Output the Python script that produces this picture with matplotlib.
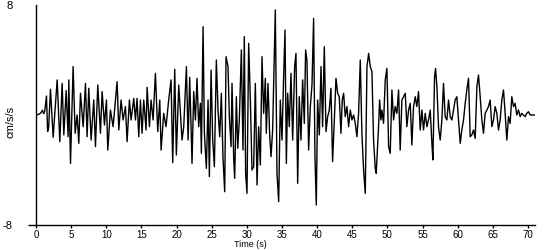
import matplotlib
matplotlib.use("Agg")
import matplotlib.pyplot as plt

# acceleration record (time in s, accel in cm/s/s)
time_s = [
    0.0, 0.4, 0.7, 0.9, 1.1, 1.25, 1.49, 1.65, 1.8, 2.06, 2.44, 3.01, 3.39,
    3.72, 3.96, 4.29, 4.57, 4.67, 4.91, 5.28, 5.57, 5.85, 6.09, 6.33, 6.71,
    7.04, 7.27, 7.51, 7.84, 8.22, 8.46, 8.79, 9.17, 9.41, 9.74, 10.02, 10.21,
    10.59, 10.97, 11.54, 11.78, 12.11, 12.39, 12.73, 12.96, 13.29, 13.53,
    13.91, 14.15, 14.38, 14.62, 14.86, 15.09, 15.33, 15.66, 15.81, 16.14,
    16.37, 16.66, 16.99, 17.32, 17.61, 17.80, 18.17, 18.50, 18.88, 19.22,
    19.45, 19.74, 19.97, 20.31, 20.78, 21.02, 21.40, 21.64, 21.87,
    22.20, 22.44, 22.68, 22.91, 23.15, 23.39, 23.53, 23.77, 23.96, 24.24,
    24.48, 24.67, 24.91, 25.14, 25.38, 25.66, 25.90, 26.14, 26.37, 26.61,
    26.85, 27.04, 27.32, 27.51, 27.75, 27.89, 28.13, 28.27, 28.51, 28.70,
    28.93, 29.22, 29.45, 29.64, 29.83, 30.02, 30.26, 30.50, 30.73, 30.97,
    31.21, 31.45, 31.68, 31.92, 32.16, 32.39, 32.63, 32.77, 33.01, 33.25,
    33.44, 33.67, 33.91, 34.05, 34.29, 34.53, 34.76, 35.00, 35.24, 35.43,
    35.62, 35.81, 36.04, 36.28, 36.52, 36.80, 36.99, 37.23, 37.46, 37.70,
    37.94, 38.18, 38.36, 38.55, 38.79, 39.03, 39.27, 39.50, 39.69, 39.88,
    40.07, 40.31, 40.55, 40.78, 41.02, 41.26, 41.50, 41.73, 41.97, 42.20,
    42.44, 42.68, 42.92, 43.15, 43.39, 43.58, 43.77, 44.00, 44.24, 44.48,
    44.72, 44.95, 45.19, 45.43, 45.66, 45.90, 46.14, 46.37, 46.61, 46.85,
    47.09, 47.33,
    47.56, 47.80, 48.03, 48.27, 48.41, 48.74, 48.89, 49.08, 49.22, 49.45,
    49.69, 49.93, 50.17, 50.40, 50.64, 50.88, 51.11, 51.35, 51.59, 51.82,
    52.06, 52.30, 52.54, 52.77, 53.01, 53.25, 53.48, 53.72, 53.96, 54.19,
    54.43, 54.67, 54.91, 55.14, 55.38, 55.62, 55.85, 56.09, 56.33, 56.47,
    56.71, 56.85, 57.04, 57.27, 57.51, 57.75, 57.98, 58.22, 58.46, 58.70,
    58.93, 59.17, 59.41, 59.64, 59.88, 60.12, 60.36, 60.59, 60.83, 61.07,
    61.30, 61.54, 61.78, 62.01, 62.25, 62.49, 62.73, 62.96, 63.20, 63.44,
    63.67, 63.91, 64.15, 64.38, 64.62, 64.86, 65.09, 65.33, 65.57, 65.81,
    66.04, 66.28, 66.52, 66.75, 66.99, 67.23, 67.46, 67.70, 67.94, 68.17,
    68.41, 68.65, 68.89, 69.12, 69.36, 69.60, 69.83, 70.07, 70.31, 70.78,
    71.0,
]
accel = [
    0.0, 0.05, 0.15, 0.35, 0.1, 0.3, 1.38, -1.2, -0.9, 1.87, -1.62, 2.55,
    -1.94, 2.30, -1.45, 1.77, -1.58, 2.55, -3.52, 3.52, -1.33, 0.0, -2.06,
    1.58, -0.85, 2.30, -1.58, 1.94, -1.82, 1.09, -2.30, 2.18, -1.33, 1.70,
    -0.73, 1.09, -2.55, 0.36, -0.85, 2.42, -1.09, 1.09, -0.36, 0.61, -1.94,
    1.09, -0.36, 1.21, -0.36, 1.21, -1.58, 1.09, -1.33, 1.09, -1.09, 2.01,
    -0.85, 1.09, -0.36, 3.03, -1.21, 1.09, -2.55, 0.12, -0.85, 1.09, 2.55,
    -3.47, 3.32, -2.91, 2.18, -1.82, -0.85, 3.52, -1.82, 2.74,
    -3.52, 1.70, -0.36, 2.67, -0.85, 0.85, -2.79, 6.42, -1.33, -3.88, 1.09,
    -4.48, 3.27, -1.82, -3.76, 4.00, 0.36, -1.58, 1.58, -3.15, -5.58, 4.24,
    3.52, -0.12, -2.30, 2.30, -3.15, -4.61, 1.33, -2.42, -0.36, 4.73, -2.55,
    5.70, -4.24, -5.70, 5.21, 1.09, -4.00, -3.76, 2.30, -5.09, -0.85, -3.64,
    4.24, 0.12, 2.67, -1.33, 2.30, -1.45, -3.03, -1.09, 4.48, 7.64, -4.24,
    -6.30, 1.09, -1.82, 2.91, 6.18, -3.52, 1.58, -0.85, 3.03, -1.82, 3.52,
    4.48, -4.97, 1.33, -1.82, 2.55, -0.61, 4.73, 4.00, -2.55, 0.61, 2.18,
    7.03, -3.03, -6.55, 1.09, -1.45, 3.52, -0.85, 4.97, -1.21, -0.12, 0.36,
    1.94, -3.39, -0.48, 2.67, 1.58, 1.33, -1.33, 1.09, 1.58, -0.12, 0.61,
    -0.85, 0.36, -0.36, 0.0, -0.61, -1.58, 0.12, 4.00, -1.33, -4.00, -5.70,
    3.52, 4.48,
    3.52, 3.15, -1.82, -3.88, -4.24, -0.85, 1.09, -0.36, 0.36, -0.61, 2.55,
    3.39, -2.30, -2.79, 1.82, -0.36, 0.61, 0.12, 1.82, -2.55, 1.09, 1.33,
    1.58, -0.85, 0.36, 0.85, -2.18, 0.61, 1.33, 0.61, 1.70, -1.09, 0.36,
    -1.09, 0.12, -0.85, -0.36, 0.36, -2.06, -3.27, 2.79, 3.39, 2.06, -0.85,
    -1.82, -0.36, 2.30, -0.12, -0.36, 1.09, -0.12, -0.36, 0.36, 1.09, 1.33,
    -0.36, -2.06, -1.09, -0.36, 0.85, 1.82, 2.67, -1.58, -1.45, -1.09,
    -1.70, 2.06, 2.91, 1.33, -0.36, -1.33, 0.12, 0.36, 0.61, 1.09, -0.85,
    -0.36, 0.61, 0.12, -1.09, -0.36, 1.09, 1.82, 0.12, -1.82, -0.12, -0.61,
    1.33, 0.61, 0.85, 0.0, 0.36, -0.12, 0.12, 0.0, -0.12, 0.12, 0.24, 0.0,
    0.0, 0.0,
]

x_ticks = list(range(0, 71, 5))
y_ticks = [-8, 8]

plt.rcParams['font.family'] = ['Liberation Sans', 'DejaVu Sans']

fig = plt.figure(figsize=(5.5, 2.5), dpi=100)
ax = fig.add_axes([36 / 550, 25 / 250, 499 / 550, 220 / 250])

ax.plot(time_s, accel, color='black', linewidth=1.0)

ax.set_xlim(0, 71.0)
ax.set_ylim(-8, 8)
ax.set_xticks(x_ticks)
ax.set_yticks(y_ticks)
ax.set_yticklabels([str(v) for v in y_ticks])

for side in ['top', 'right']:
    ax.spines[side].set_visible(False)
for side in ['left', 'bottom']:
    ax.spines[side].set_linewidth(1.0)

ax.tick_params(axis='x', direction='out', length=2.5, width=1, pad=1, labelsize=7)
ax.tick_params(axis='y', direction='out', length=6, width=1, pad=11, labelsize=8)
ax.yaxis.get_major_ticks()[1].tick1line.set_visible(False)

ax.set_xlabel('Time (s)', fontsize=6.5)
ax.xaxis.set_label_coords(0.43, -0.066)
ax.set_ylabel('cm/s/s', fontsize=8)
ax.yaxis.set_label_coords(-0.042, 0.47)

fig.savefig('out.png', dpi=100)
